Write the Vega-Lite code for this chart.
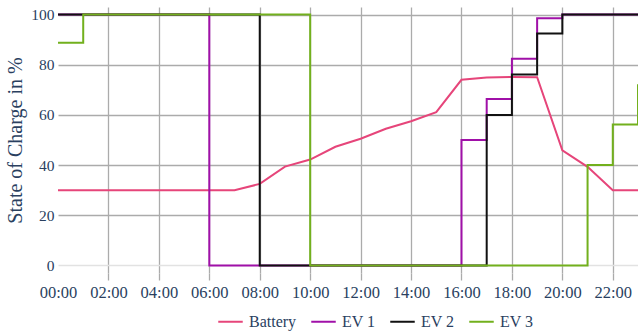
{
  "$schema": "https://vega.github.io/schema/vega-lite/v6.json",
  "autosize": "none",
  "width": 580,
  "height": 266,
  "padding": {"left": 58, "top": 7, "right": 0, "bottom": 60},
  "background": "white",
  "config": {
    "view": {"stroke": null},
    "font": "Liberation Serif",
    "axis": {"labelFont": "Liberation Serif", "titleFont": "Liberation Serif", "labelColor": "#2a3f5f", "titleColor": "#2a3f5f", "labelFontSize": 16, "titleFontWeight": "normal", "gridColor": "#ababab", "gridWidth": 1.3, "domain": false},
    "legend": {"labelFont": "Liberation Serif", "labelFontSize": 16, "labelColor": "#2a3f5f"}
  },
  "datasets": {
    "battery": [
      {"hour": 0, "soc": 30, "series": "Battery"},
      {"hour": 7, "soc": 30, "series": "Battery"},
      {"hour": 8, "soc": 32.5, "series": "Battery"},
      {"hour": 9, "soc": 39.4, "series": "Battery"},
      {"hour": 10, "soc": 42.2, "series": "Battery"},
      {"hour": 11, "soc": 47.3, "series": "Battery"},
      {"hour": 12, "soc": 50.5, "series": "Battery"},
      {"hour": 13, "soc": 54.5, "series": "Battery"},
      {"hour": 14, "soc": 57.5, "series": "Battery"},
      {"hour": 15, "soc": 61.1, "series": "Battery"},
      {"hour": 16, "soc": 74.0, "series": "Battery"},
      {"hour": 17, "soc": 74.9, "series": "Battery"},
      {"hour": 18, "soc": 75.1, "series": "Battery"},
      {"hour": 19, "soc": 75.0, "series": "Battery"},
      {"hour": 20, "soc": 45.9, "series": "Battery"},
      {"hour": 21, "soc": 39.3, "series": "Battery"},
      {"hour": 22, "soc": 30, "series": "Battery"},
      {"hour": 23, "soc": 30, "series": "Battery"}
    ],
    "ev": [
      {"hour": 0, "soc": 100, "series": "EV 1"},
      {"hour": 6, "soc": 0, "series": "EV 1"},
      {"hour": 16, "soc": 50, "series": "EV 1"},
      {"hour": 17, "soc": 66.3, "series": "EV 1"},
      {"hour": 18, "soc": 82.4, "series": "EV 1"},
      {"hour": 19, "soc": 98.5, "series": "EV 1"},
      {"hour": 20, "soc": 100, "series": "EV 1"},
      {"hour": 23, "soc": 100, "series": "EV 1"},
      {"hour": 0, "soc": 100, "series": "EV 2"},
      {"hour": 8, "soc": 0, "series": "EV 2"},
      {"hour": 17, "soc": 60, "series": "EV 2"},
      {"hour": 18, "soc": 76.1, "series": "EV 2"},
      {"hour": 19, "soc": 92.4, "series": "EV 2"},
      {"hour": 20, "soc": 100, "series": "EV 2"},
      {"hour": 23, "soc": 100, "series": "EV 2"},
      {"hour": 0, "soc": 88.8, "series": "EV 3"},
      {"hour": 1, "soc": 100, "series": "EV 3"},
      {"hour": 10, "soc": 0, "series": "EV 3"},
      {"hour": 21, "soc": 40, "series": "EV 3"},
      {"hour": 22, "soc": 56.2, "series": "EV 3"},
      {"hour": 23, "soc": 72.2, "series": "EV 3"}
    ]
  },
  "encoding": {
    "x": {
      "field": "hour", "type": "quantitative",
      "scale": {"domain": [0, 23], "nice": false, "zero": false},
      "axis": {
        "title": null,
        "values": [0, 2, 4, 6, 8, 10, 12, 14, 16, 18, 20, 22],
        "labelExpr": "(datum.value < 10 ? '0' : '') + datum.value + ':00'",
        "labelOverlap": false,
        "labelFlush": false,
        "labelFontSize": 16.5,
        "tickSize": 7, "tickColor": "#ababab", "tickWidth": 1.3,
        "labelPadding": 4,
        "gridOpacity": {"condition": {"test": "datum.value === 0", "value": 0}, "value": 1},
        "tickOpacity": {"condition": {"test": "datum.value === 0", "value": 0}, "value": 1}
      }
    },
    "y": {
      "field": "soc", "type": "quantitative",
      "scale": {"domain": [-3, 103], "nice": false, "zero": false},
      "axis": {
        "title": "State of Charge in %",
        "titleFontSize": 20,
        "titlePadding": 5,
        "values": [0, 20, 40, 60, 80, 100],
        "labelOverlap": false,
        "labelFontSize": 15.5,
        "ticks": false,
        "labelPadding": 4,
        "gridColor": {"condition": {"test": "datum.value === 0", "value": "#e2e2e2"}, "value": "#ababab"}
      }
    },
    "color": {
      "field": "series", "type": "nominal",
      "scale": {"domain": ["Battery", "EV 1", "EV 2", "EV 3"], "range": ["#e6457a", "#a010a8", "#111111", "#72b01d"]},
      "legend": {
        "title": null, "orient": "none", "direction": "horizontal",
        "legendX": 159, "legendY": 301,
        "symbolType": "stroke", "symbolSize": 600, "symbolStrokeWidth": 2,
        "columnPadding": 10, "labelOffset": 5
      }
    }
  },
  "layer": [
    {
      "data": {"name": "battery"},
      "mark": {"type": "line", "interpolate": "linear", "strokeWidth": 2}
    },
    {
      "data": {"name": "ev"},
      "mark": {"type": "line", "interpolate": "step-after", "strokeWidth": 2}
    }
  ]
}
